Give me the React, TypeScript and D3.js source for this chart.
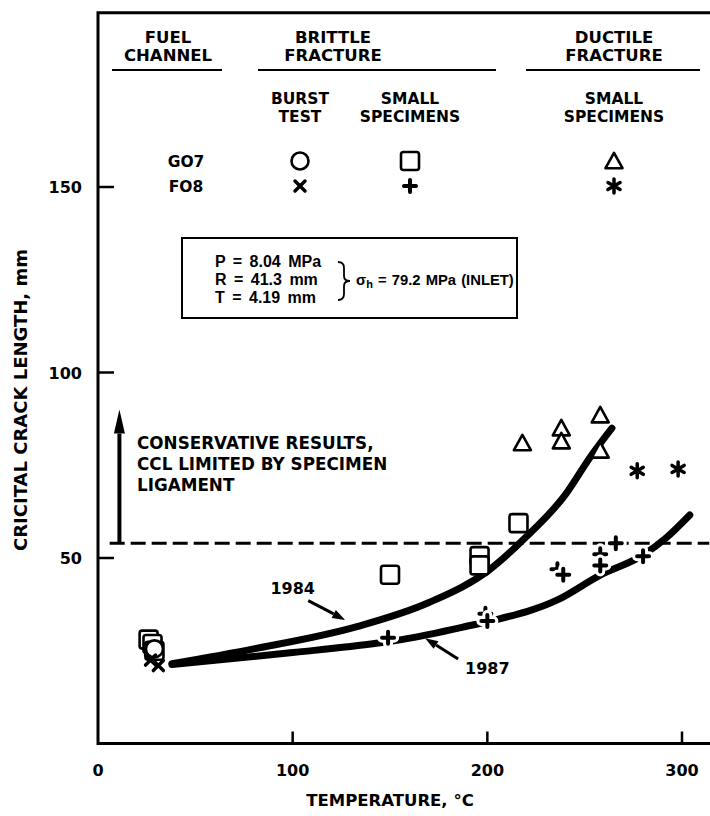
import React from "react";
import * as d3 from "d3";

// ---- data (T in °C, critical crack length in mm) ----
const xTicks = [100, 200, 300];
const yTicks = [50, 100, 150];
const xTickLabels = ["0", "100", "200", "300"];
const xTickLabelValues = [0, 100, 200, 300];

const g07BurstCircles: [number, number][] = [[29, 25.5]];
const g07SmallSquares: [number, number][] = [
  [26, 28], [28, 26.8], [29, 25], [150, 45.5], [196, 50.5], [196, 48], [216, 59.4],
];
const g07DuctileTriangles: [number, number][] = [
  [218, 81], [238, 85], [238, 81.5], [258, 88.5], [258, 79],
];
const f08BurstCrosses: [number, number][] = [[27, 22.5], [31, 21]];
const f08SmallPlus: [number, number][] = [
  [149, 28.5], [199, 35], [200, 33], [236, 47], [239, 45.5], [258, 51], [258, 48], [266, 54], [280, 50.5],
];
const f08DuctileAsterisks: [number, number][] = [[277, 73.5], [298, 74]];

const curve1984: [number, number][] = [
  [38, 21.5], [80, 25.5], [133, 31.5], [170, 38], [201, 46.8], [220, 55.7], [240, 67], [253, 77.3], [264, 85],
];
const curve1987: [number, number][] = [
  [38, 21.3], [100, 24.5], [143, 27], [156, 28], [193, 32], [204, 33.3], [236, 38.7], [258, 45.4], [280, 50.8], [292, 55.5], [304, 61.6],
];
const ligamentLimit = 54;

const W = 710;
const H = 816;
const FONT = "'DejaVu Sans', 'Liberation Sans', Arial, sans-serif";
const FONT2 = "'Liberation Sans', Arial, sans-serif";

const x = d3.scaleLinear().domain([0, 300]).range([98, 682]);
const y = d3.scaleLinear().domain([0, 150]).range([743.5, 187]);
const xMax = 317;
const yMax = 197;

const sw = 2.6;

function Square({ cx, cy }: { cx: number; cy: number }) {
  return <rect x={cx - 9} y={cy - 9} width={18} height={18} rx={2.5} fill="white" stroke="#000" strokeWidth={sw} />;
}
function Circle({ cx, cy }: { cx: number; cy: number }) {
  return <circle cx={cx} cy={cy} r={8.5} fill="white" stroke="#000" strokeWidth={sw} />;
}
function Triangle({ cx, cy }: { cx: number; cy: number }) {
  const s = 17;
  const h = s * 0.85;
  return (
    <path
      d={`M${cx},${cy - h / 2 - 1}L${cx + s / 2},${cy + h / 2}L${cx - s / 2},${cy + h / 2}Z`}
      fill="white"
      stroke="#000"
      strokeWidth={sw}
      strokeLinejoin="round"
    />
  );
}
function Plus({ cx, cy, halo = true }: { cx: number; cy: number; halo?: boolean }) {
  const a = 6;
  const d = `M${cx - a},${cy}H${cx + a}M${cx},${cy - a}V${cy + a}`;
  return (
    <g>
      {halo && <path d={d} stroke="white" strokeWidth={10} strokeLinecap="round" />}
      <path d={d} stroke="#000" strokeWidth={4} strokeLinecap="round" />
    </g>
  );
}
function Cross({ cx, cy }: { cx: number; cy: number }) {
  const a = 5;
  return (
    <path
      d={`M${cx - a},${cy - a}L${cx + a},${cy + a}M${cx + a},${cy - a}L${cx - a},${cy + a}`}
      stroke="#000"
      strokeWidth={3.5}
      strokeLinecap="round"
    />
  );
}
function Asterisk({ cx, cy }: { cx: number; cy: number }) {
  const a = 7;
  const c = a * Math.cos(Math.PI / 6);
  const s = a * Math.sin(Math.PI / 6);
  return (
    <path
      d={`M${cx},${cy - a}V${cy + a}M${cx - c},${cy - s}L${cx + c},${cy + s}M${cx + c},${cy - s}L${cx - c},${cy + s}`}
      stroke="#000"
      strokeWidth={3.5}
      strokeLinecap="round"
    />
  );
}

function Arrow({ from, to, head = 12, width = 9, sw: w = 3 }: { from: [number, number]; to: [number, number]; head?: number; width?: number; sw?: number }) {
  const [x1, y1] = from;
  const [x2, y2] = to;
  const ang = Math.atan2(y2 - y1, x2 - x1);
  const bx = x2 - head * Math.cos(ang);
  const by = y2 - head * Math.sin(ang);
  const px = (width / 2) * Math.cos(ang + Math.PI / 2);
  const py = (width / 2) * Math.sin(ang + Math.PI / 2);
  return (
    <g>
      <line x1={x1} y1={y1} x2={bx} y2={by} stroke="#000" strokeWidth={w} />
      <path d={`M${x2},${y2}L${bx + px},${by + py}L${bx - px},${by - py}Z`} fill="#000" />
    </g>
  );
}

export default function App() {
  const line = d3
    .line<[number, number]>()
    .x((d) => x(d[0]))
    .y((d) => y(d[1]))
    .curve(d3.curveMonotoneX);

  const txt = { fontFamily: FONT, fontWeight: 700, fill: "#000" } as const;
  const txt2 = { fontFamily: FONT2, fontWeight: 700, fill: "#000" } as const;

  // legend columns / rows (pixel layout)
  const colFuel = 168;
  const colBurst = 300;
  const colSmall = 410;
  const colDuct = 614;
  const rowG = 161;
  const rowF = 186;

  return (
    <svg width={W} height={H} style={{ position: "absolute", left: 0, top: 0, background: "white" }}>
      <rect x={0} y={0} width={W} height={H} fill="white" />
      {/* frame */}
      <path
        d={`M${x(xMax)},${y(yMax)}H${x(0)}V${y(0)}H${x(xMax)}`}
        fill="none"
        stroke="#000"
        strokeWidth={3}
      />
      {/* ticks */}
      {xTicks.map((t) => (
        <line key={"xt" + t} x1={x(t)} x2={x(t)} y1={y(0)} y2={y(0) - 12} stroke="#000" strokeWidth={2.5} />
      ))}
      {yTicks.map((t) => (
        <line key={"yt" + t} x1={x(0)} x2={x(0) + 16} y1={y(t)} y2={y(t)} stroke="#000" strokeWidth={2.5} />
      ))}
      {xTickLabelValues.map((t, i) => (
        <text key={"xl" + t} x={x(t)} y={y(0) + 32} textAnchor="middle" fontSize={16} {...txt}>
          {xTickLabels[i]}
        </text>
      ))}
      {yTicks.map((t) => (
        <text key={"yl" + t} x={x(0) - 16} y={y(t) + 6} textAnchor="end" fontSize={16} {...txt}>
          {t}
        </text>
      ))}
      <text x={390} y={806} textAnchor="middle" fontSize={16.5} {...txt}>
        TEMPERATURE, °C
      </text>
      <text transform={`translate(27,400) rotate(-90)`} textAnchor="middle" fontSize={18} {...txt}>
        CRICITAL CRACK LENGTH, mm
      </text>

      {/* legend table */}
      <g fontSize={16.5} textAnchor="middle" {...txt}>
        <text x={colFuel} y={43}>FUEL</text>
        <text x={colFuel} y={61}>CHANNEL</text>
        <text x={333} y={43}>BRITTLE</text>
        <text x={333} y={61}>FRACTURE</text>
        <text x={colDuct} y={43}>DUCTILE</text>
        <text x={colDuct} y={61}>FRACTURE</text>
      </g>
      <g fontSize={15.5} textAnchor="middle" {...txt}>
        <text x={colBurst} y={104}>BURST</text>
        <text x={colBurst} y={122}>TEST</text>
        <text x={colSmall} y={104}>SMALL</text>
        <text x={colSmall} y={122}>SPECIMENS</text>
        <text x={colDuct} y={104}>SMALL</text>
        <text x={colDuct} y={122}>SPECIMENS</text>
        <text x={186} y={rowG + 6}>GO7</text>
        <text x={186} y={rowF + 6}>FO8</text>
      </g>
      <line x1={112} x2={222} y1={70} y2={70} stroke="#000" strokeWidth={2} />
      <line x1={258} x2={496} y1={70} y2={70} stroke="#000" strokeWidth={2} />
      <line x1={526} x2={700} y1={70} y2={70} stroke="#000" strokeWidth={2} />
      <Circle cx={colBurst} cy={rowG} />
      <Square cx={colSmall} cy={rowG} />
      <Triangle cx={colDuct} cy={rowG} />
      <Cross cx={colBurst} cy={rowF} />
      <Plus cx={colSmall} cy={rowF} halo={false} />
      <Asterisk cx={colDuct} cy={rowF} />

      {/* parameter box */}
      <rect x={182} y={238} width={335} height={80} fill="white" stroke="#000" strokeWidth={2} />
      <g fontSize={16} {...txt2}>
        <text x={215} y={267} wordSpacing={3}>P = 8.04 MPa</text>
        <text x={215} y={285} wordSpacing={3}>R = 41.3 mm</text>
        <text x={215} y={303} wordSpacing={3}>T = 4.19 mm</text>
        <text x={356} y={285} fontSize={14.8} wordSpacing={1}>
          σ<tspan fontSize={11} dy={3}>h</tspan>
          <tspan dy={-3}> = 79.2 MPa (INLET)</tspan>
        </text>
      </g>
      <path
        d="M338,262 Q344,262 344,268 L344,276 Q344,281 350,281 Q344,281 344,286 L344,294 Q344,300 338,300"
        fill="none"
        stroke="#000"
        strokeWidth={1.8}
      />

      {/* conservative annotation */}
      <g fontSize={16.8} {...txt}>
        <text x={137} y={449}>CONSERVATIVE RESULTS,</text>
        <text x={137} y={470}>CCL LIMITED BY SPECIMEN</text>
        <text x={137} y={491}>LIGAMENT</text>
      </g>
      <Arrow from={[x(11), y(ligamentLimit)]} to={[x(11), y(90)]} head={24} width={11} sw={4} />
      <line x1={x(6)} x2={x(314)} y1={y(ligamentLimit)} y2={y(ligamentLimit)} stroke="#000" strokeWidth={3} strokeDasharray="15 6" />

      {/* fitted curves */}
      <path d={line(curve1984) || ""} fill="none" stroke="#000" strokeWidth={7} strokeLinecap="round" />
      <path d={line(curve1987) || ""} fill="none" stroke="#000" strokeWidth={7} strokeLinecap="round" />

      {/* curve labels */}
      <text x={x(100)} y={y(42) + 6} textAnchor="middle" fontSize={16} {...txt}>1984</text>
      <Arrow from={[x(108), y(38.5)]} to={[x(127), y(33.3)]} head={13} width={9} sw={3} />
      <text x={x(200)} y={y(20.4) + 6} textAnchor="middle" fontSize={16} {...txt}>1987</text>
      <Arrow from={[x(185), y(22.8)]} to={[x(168), y(28.4)]} head={13} width={9} sw={3} />

      {/* data points */}
      {g07SmallSquares.map((d, i) => <Square key={"s" + i} cx={x(d[0])} cy={y(d[1])} />)}
      {g07BurstCircles.map((d, i) => <Circle key={"c" + i} cx={x(d[0])} cy={y(d[1])} />)}
      {g07DuctileTriangles.map((d, i) => <Triangle key={"t" + i} cx={x(d[0])} cy={y(d[1])} />)}
      {f08BurstCrosses.map((d, i) => <Cross key={"x" + i} cx={x(d[0])} cy={y(d[1])} />)}
      {f08SmallPlus.map((d, i) => <Plus key={"p" + i} cx={x(d[0])} cy={y(d[1])} />)}
      {f08DuctileAsterisks.map((d, i) => <Asterisk key={"a" + i} cx={x(d[0])} cy={y(d[1])} />)}
    </svg>
  );
}
